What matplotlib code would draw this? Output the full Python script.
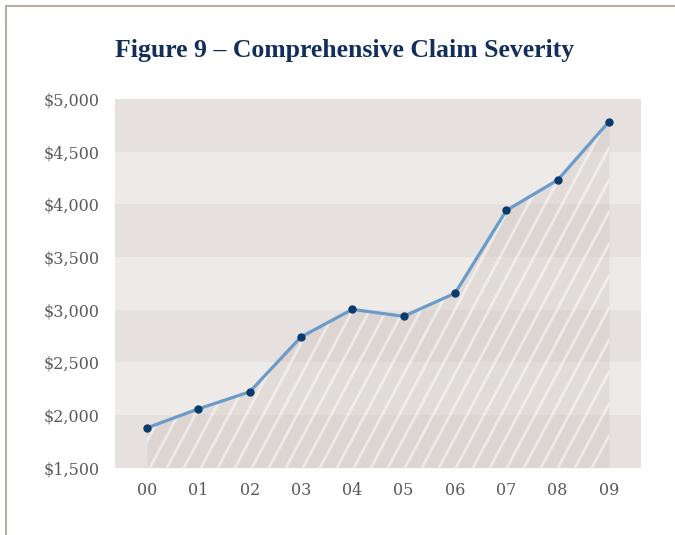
import numpy as np
import matplotlib.pyplot as plt
from matplotlib.patches import Polygon
from matplotlib.lines import Line2D

years = ["00", "01", "02", "03", "04", "05", "06", "07", "08", "09"]
severity = [1878, 2058, 2220, 2741, 3003, 2937, 3156, 3942, 4231, 4786]
y_ticks = [1500, 2000, 2500, 3000, 3500, 4000, 4500, 5000]

dark_band = "#e6e1de"
light_band = "#eeeae7"
line_col = "#6b9bca"
dot_col = "#0b3a6c"
title_col = "#122f5c"
text_col = "#5a5a5a"

fig = plt.figure(figsize=(6.75, 5.35), dpi=100)
ax = fig.add_axes([115/675, 1 - 467.7/535, 526/675, 368.7/535])

x = np.arange(len(years))

# alternating horizontal bands
for i in range(len(y_ticks) - 1):
    ax.axhspan(y_ticks[i], y_ticks[i+1], color=dark_band if i % 2 == 0 else light_band,
               lw=0, zorder=0)

# shaded area under the line
ax.fill_between(x, severity, y_ticks[0], color="#c2b5ae", alpha=0.25, lw=0, zorder=1)
verts = np.column_stack([np.r_[x, x[::-1]], np.r_[severity, [y_ticks[0]] * len(x)]])
clip = Polygon(verts, closed=True, transform=ax.transData, visible=False)
ax.add_patch(clip)

# steep white hatch lines (axes fraction coords)
w_px, h_px = 526, 368.7
slope = np.tan(np.radians(62))
dx = h_px / slope / w_px
for start in np.arange(-1.0, 1.05, 17 / w_px):
    ln = Line2D([start, start + dx], [0, 1], transform=ax.transAxes,
                color="white", alpha=0.5, lw=2.0, zorder=2)
    ln.set_clip_path(clip)
    ax.add_line(ln)

ax.plot(x, severity, color=line_col, lw=2.3, zorder=3, solid_joinstyle="round")
ax.plot(x, severity, "o", color=dot_col, ms=5, zorder=4)

ax.set_xlim(-0.623, 9.623)
ax.set_ylim(1500, 5000)
ax.set_xticks(x)
ax.set_xticklabels(years)
ax.set_yticks(y_ticks)
ax.set_yticklabels([f"${v:,}" for v in y_ticks])
ax.tick_params(length=0, labelcolor=text_col)
ax.tick_params(axis="x", pad=10)
ax.tick_params(axis="y", pad=11)
for lbl in ax.get_xticklabels() + ax.get_yticklabels():
    lbl.set_fontfamily("DejaVu Serif")
    lbl.set_fontsize(11.5)
for s in ax.spines.values():
    s.set_visible(False)

fig.text(345/675, 1 - 50/535, "Figure 9 – Comprehensive Claim Severity",
         ha="center", va="center", fontsize=18.5, fontweight="bold",
         family="Liberation Serif", color=title_col)

# outer frame lines (top and left)
fig.add_artist(Line2D([6/675, 1], [1 - 5.5/535] * 2, transform=fig.transFigure,
                      color="#b9aca2", lw=1.5))
fig.add_artist(Line2D([6/675] * 2, [0, 1 - 5.5/535], transform=fig.transFigure,
                      color="#b9aca2", lw=1.5))

fig.savefig("out.png", dpi=100)
